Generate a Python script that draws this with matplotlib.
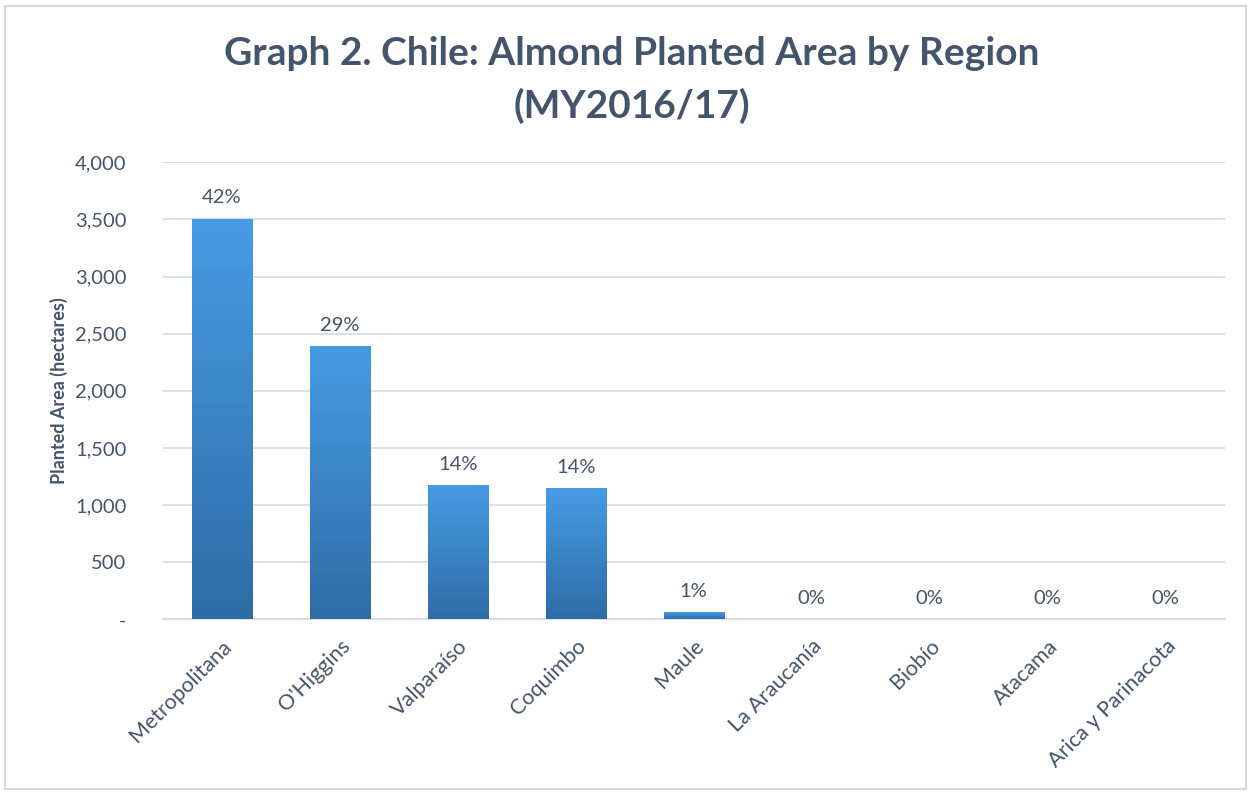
import matplotlib
matplotlib.use("Agg")
import matplotlib.pyplot as plt
import numpy as np
from matplotlib.ticker import FuncFormatter
from matplotlib.patches import Rectangle

regions = ["Metropolitana", "O'Higgins", "Valparaíso", "Coquimbo", "Maule",
           "La Araucanía", "Biobío", "Atacama", "Arica y Parinacota"]
area_ha = [3505, 2390, 1172, 1146, 61, 2, 1, 1, 1]
shares = ["42%", "29%", "14%", "14%", "1%", "0%", "0%", "0%", "0%"]

TXT = "#44546A"
GRID = "#D9DDE4"
TOP_C = np.array([0x47, 0x9C, 0xE4]) / 255
BOT_C = np.array([0x2E, 0x6C, 0xA6]) / 255

plt.rcParams["font.family"] = ["Lato", "DejaVu Sans"]

fig = plt.figure(figsize=(12.51, 7.92), dpi=100)
ax = fig.add_axes([0.130, 0.218, 0.849, 0.577])

bars = ax.bar(range(len(regions)), area_ha, width=0.51, color="none",
              zorder=3)

# vertical gradient per bar, light at top
grad = np.linspace(0, 1, 256)[:, None, None]
img = BOT_C * (1 - grad) + TOP_C * grad
for b in bars:
    x0, w, h = b.get_x(), b.get_width(), b.get_height()
    if h < 20:
        continue
    im = ax.imshow(img, extent=[x0, x0 + w, 0, h], origin="lower",
                   aspect="auto", zorder=3, interpolation="bicubic")
    im.set_clip_path(Rectangle((x0, 0), w, h, transform=ax.transData))

for i, (v, s) in enumerate(zip(area_ha, shares)):
    ax.text(i, v + 110, s, ha="center", va="bottom", color=TXT, fontsize=14.5)

ax.set_xlim(-0.5, len(regions) - 0.5)
ax.set_ylim(0, 4000)
ax.set_yticks(np.arange(0, 4001, 500))
ax.yaxis.set_major_formatter(FuncFormatter(
    lambda v, p: "-" if v == 0 else f"{int(v):,}"))
ax.set_xticks(range(len(regions)))
ax.set_xticklabels(regions, rotation=45, ha="right", rotation_mode="anchor",
                   fontsize=15.5)
ax.tick_params(axis="both", length=0, colors=TXT)
ax.tick_params(axis="y", pad=26, labelsize=14.5)
ax.tick_params(axis="x", pad=12)

ax.grid(axis="y", color=GRID, lw=1.3, zorder=0)
for sp in ["top", "right", "left"]:
    ax.spines[sp].set_visible(False)
ax.spines["bottom"].set_color(GRID)
ax.spines["bottom"].set_linewidth(1.5)

ax.set_ylabel("Planted Area (hectares)", color=TXT, fontsize=13,
              fontweight="bold", labelpad=5)

fig.text(0.505, 0.932, "Graph 2. Chile: Almond Planted Area by Region",
         ha="center", va="center", color=TXT, fontsize=28, fontweight="bold")
fig.text(0.505, 0.866, "(MY2016/17)", ha="center", va="center", color=TXT,
         fontsize=28, fontweight="bold")

fig.patches.append(Rectangle((0.004, 0.004), 0.992, 0.988, fill=False,
                             edgecolor="#D9D9D9", lw=1.5,
                             transform=fig.transFigure))

fig.savefig("out.png", dpi=100, facecolor="white")
